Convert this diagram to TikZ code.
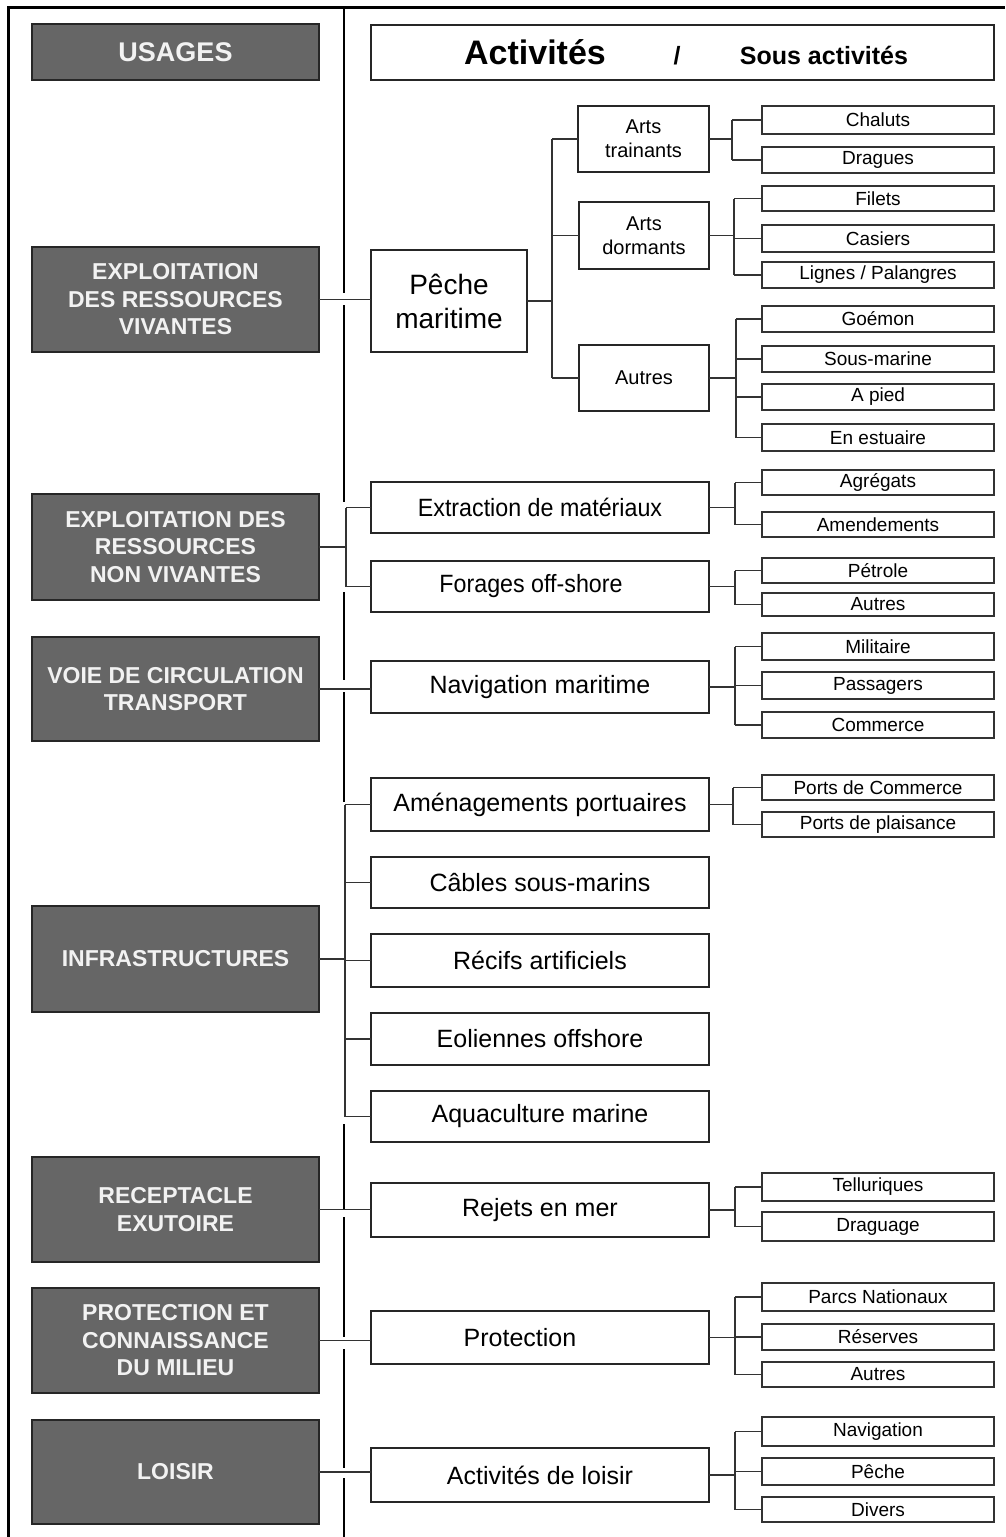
\documentclass[tikz,border=0pt]{standalone}
\usepackage{fontspec}
\usepackage{graphicx}
\setmainfont{Liberation Sans}
\definecolor{darkbox}{HTML}{666666}
\definecolor{txtw}{HTML}{F2F2F2}
\newcommand\mkbox[7]{\node[#1, minimum width={(#5)-(#3)}, minimum height={(#6)-(#4)}] (#2) at ({((#3)+(#5))/2},{((#4)+(#6))/2}) {#7};}
\newcommand\mytree[5]{%
  \coordinate (sp) at (#2,0);
  \draw[conn] (#1.east) -- (#1.east -| sp);
  \draw[conn] (sp |- #3.west) -- (sp |- #4.west);
  \foreach \c in {#5} {\draw[conn] (sp |- \c.west) -- (\c.west);}
}
\begin{document}
\begin{tikzpicture}[x=1pt,y=-1pt,
  usage/.style={draw=black!85, line width=2.2pt, fill=darkbox, text=txtw, font=\bfseries\fontsize{23}{27.5}\selectfont, align=center, inner sep=0pt, outer sep=0pt},
  act/.style={draw=black!85, line width=1.8pt, fill=white, font=\fontsize{25}{30}\selectfont, align=center, inner sep=0pt, outer sep=0pt},
  art/.style={act, line width=1.5pt, font=\fontsize{20}{24}\selectfont},
  sub/.style={draw=black!80, line width=1.5pt, fill=white, font=\fontsize{19}{22}\selectfont, inner sep=0pt, outer sep=0pt},
  conn/.style={draw=black!80, line width=1.3pt},
  frameline/.style={line width=3pt, black},
  divline/.style={line width=2.4pt, black}]
\useasboundingbox (0,0) rectangle (1005,1537);
\fill[white] (0,0) rectangle (1005,1537);

% frame and divider
\draw[frameline] (8,1537) -- (8,7) -- (1005,7);
\draw[divline] (344,7) -- (344,293) (344,305) -- (344,502) (344,592) -- (344,680)
  (344,692) -- (344,802) (344,1124) -- (344,1210) (344,1217) -- (344,1337)
  (344,1349) -- (344,1468) (344,1478) -- (344,1537);

% usages
\mkbox{usage, font=\bfseries\fontsize{27}{32}\selectfont}{us}{32}{24}{319}{80}{USAGES}
\mkbox{usage}{ev}{32}{247}{319}{352}{EXPLOITATION\\DES RESSOURCES\\VIVANTES}
\mkbox{usage}{nv}{32}{494}{319}{600}{EXPLOITATION DES\\RESSOURCES\\NON VIVANTES}
\mkbox{usage}{vc}{32}{637}{319}{741}{VOIE DE CIRCULATION\\TRANSPORT}
\mkbox{usage}{inf}{32}{906}{319}{1012}{INFRASTRUCTURES}
\mkbox{usage}{rcp}{32}{1157}{319}{1262}{RECEPTACLE\\EXUTOIRE}
\mkbox{usage}{pcm}{32}{1288}{319}{1393}{PROTECTION ET\\CONNAISSANCE\\DU MILIEU}
\mkbox{usage}{loi}{32}{1420}{319}{1524}{LOISIR}

% header
\mkbox{act, line width=2.2pt}{hd}{371}{25}{994}{80}{}
\node[font=\bfseries\fontsize{34}{40}\selectfont, anchor=base, inner sep=0pt] (hA) at (535,64) {Activités};
\node[font=\bfseries\fontsize{25}{30}\selectfont, anchor=base, inner sep=0pt] (hS) at (677,64) {/};
\node[font=\bfseries\fontsize{25}{30}\selectfont, anchor=base, inner sep=0pt] (hB) at (824,64) {Sous activités};

% activities
\mkbox{act, font=\fontsize{28}{34}\selectfont}{pm}{371}{250}{527}{352}{Pêche\\maritime}
\mkbox{art}{at}{578}{106}{709}{172}{Arts\\trainants}
\mkbox{art}{ad}{579}{202}{709}{269}{Arts\\dormants}
\mkbox{art}{au}{579}{345}{709}{411}{Autres}

\mkbox{act}{ex}{371}{482}{709}{533}{\scalebox{0.93}[1]{Extraction de matériaux}}
\mkbox{act}{fo}{371}{561}{709}{612}{\scalebox{0.93}[1]{Forages off-shore}\hspace*{18pt}}
\mkbox{act}{nm}{371}{661}{709}{713}{Navigation maritime}
\mkbox{act}{amg}{371}{778}{709}{831}{Aménagements portuaires}
\mkbox{act}{cb}{371}{857}{709}{908}{Câbles sous-marins}
\mkbox{act}{rc}{371}{934}{709}{987}{Récifs artificiels}
\mkbox{act}{eo}{371}{1013}{709}{1065}{Eoliennes offshore}
\mkbox{act}{aq}{371}{1091}{709}{1142}{Aquaculture marine}
\mkbox{act}{rj}{371}{1183}{709}{1237}{Rejets en mer}
\mkbox{act}{pr}{371}{1311}{709}{1364}{Protection\hspace*{40pt}}
\mkbox{act}{al}{371}{1448}{709}{1502}{Activités de loisir}

% sub-activities
\mkbox{sub}{ch}{762}{106}{994}{134}{Chaluts}
\mkbox{sub}{dr}{762}{147}{994}{173}{Dragues}
\mkbox{sub}{fi}{762}{186}{994}{211}{Filets}
\mkbox{sub}{ca}{762}{225}{994}{252}{Casiers}
\mkbox{sub}{li}{762}{262}{994}{288}{Lignes / Palangres}
\mkbox{sub}{go}{762}{306}{994}{332}{Goémon}
\mkbox{sub}{sm}{762}{346}{994}{372}{Sous-marine}
\mkbox{sub}{ap}{762}{384}{994}{410}{A pied}
\mkbox{sub}{ee}{762}{424}{994}{451}{En estuaire}
\mkbox{sub}{ag}{762}{470}{994}{495}{Agrégats}
\mkbox{sub}{amd}{762}{512}{994}{537}{Amendements}
\mkbox{sub}{pe}{762}{558}{994}{583}{Pétrole}
\mkbox{sub}{aub}{762}{593}{994}{616}{Autres}
\mkbox{sub}{mi}{762}{633}{994}{660}{Militaire}
\mkbox{sub}{pa}{762}{672}{994}{699}{Passagers}
\mkbox{sub}{co}{762}{712}{994}{738}{Commerce}
\mkbox{sub}{pco}{762}{775}{994}{800}{Ports de Commerce}
\mkbox{sub}{ppl}{762}{812}{994}{837}{Ports de plaisance}
\mkbox{sub}{te}{762}{1173}{994}{1201}{Telluriques}
\mkbox{sub}{dg}{762}{1212}{994}{1241}{Draguage}
\mkbox{sub}{pn}{762}{1283}{994}{1311}{Parcs Nationaux}
\mkbox{sub}{rs}{762}{1324}{994}{1350}{Réserves}
\mkbox{sub}{auc}{762}{1362}{994}{1387}{Autres}
\mkbox{sub}{nvg}{762}{1417}{994}{1446}{Navigation}
\mkbox{sub}{pch}{762}{1458}{994}{1485}{Pêche}
\mkbox{sub}{dv}{762}{1497}{994}{1522}{Divers}

% connectors: usages to activities
\draw[conn] (ev.east) -- (ev.east -| pm.west);
\mytree{nv}{346}{ex}{fo}{ex,fo}
\draw[conn] (vc.east) -- (vc.east -| nm.west);
\mytree{inf}{345}{amg}{aq}{amg,cb,rc,eo,aq}
\draw[conn] (rcp.east) -- (rcp.east -| rj.west);
\draw[conn] (pcm.east) -- (pcm.east -| pr.west);
\draw[conn] (loi.east) -- (loi.east -| al.west);

% connectors: activities to sub-activities
\mytree{pm}{552}{at}{au}{at,ad,au}
\mytree{at}{732}{ch}{dr}{ch,dr}
\mytree{ad}{734}{fi}{li}{fi,ca,li}
\mytree{au}{736}{go}{ee}{go,sm,ap,ee}
\mytree{ex}{735}{ag}{amd}{ag,amd}
\mytree{fo}{735}{pe}{aub}{pe,aub}
\mytree{nm}{735}{mi}{co}{mi,pa,co}
\mytree{amg}{733}{pco}{ppl}{pco,ppl}
\mytree{rj}{735}{te}{dg}{te,dg}
\mytree{pr}{735}{pn}{auc}{pn,rs,auc}
\mytree{al}{735}{nvg}{dv}{nvg,pch,dv}
\end{tikzpicture}
\end{document}
